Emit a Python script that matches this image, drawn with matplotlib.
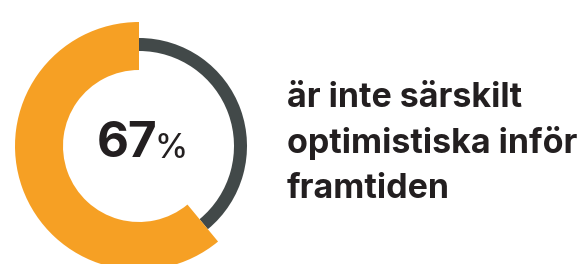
import matplotlib
matplotlib.use("Agg")
import matplotlib.pyplot as plt

plt.rcParams['font.family'] = ['Inter', 'DejaVu Sans']

# arc shares as drawn in the reference (label reads 67%)
shares = [61, 39]
label_value = "67"
caption_lines = ["är inte särskilt", "optimistiska inför", "framtiden"]

orange = '#F6A024'
grey = '#424949'
ink = '#231F20'

W, H = 582, 264
fig = plt.figure(figsize=(W / 100, H / 100), dpi=100)
ax = fig.add_axes([0, 0, 1, 1])

cx, cy = 139, H - 146

# thin grey ring behind
ax.pie(shares, colors=['none', grey], startangle=90, counterclock=True,
       radius=108, center=(cx, cy), wedgeprops=dict(width=13, linewidth=0))
# thick orange ring
ax.pie(shares, colors=[orange, 'none'], startangle=90, counterclock=True,
       radius=124, center=(cx, cy), wedgeprops=dict(width=48, linewidth=0))

ax.set_xlim(0, W)
ax.set_ylim(0, H)
ax.set_aspect('equal')
ax.axis('off')

ax.text(157, H - 157, label_value, fontsize=35.5, fontweight='bold', color=ink,
        ha='right', va='baseline')
ax.text(154, H - 158, '%', fontsize=24, fontweight='medium', color=ink,
        ha='left', va='baseline')

for i, line in enumerate(caption_lines):
    ax.text(287, H - 107 - 45.5 * i, line, fontsize=24.5, fontweight='bold',
            color=ink, ha='left', va='baseline')

fig.savefig('out.png', dpi=100)
